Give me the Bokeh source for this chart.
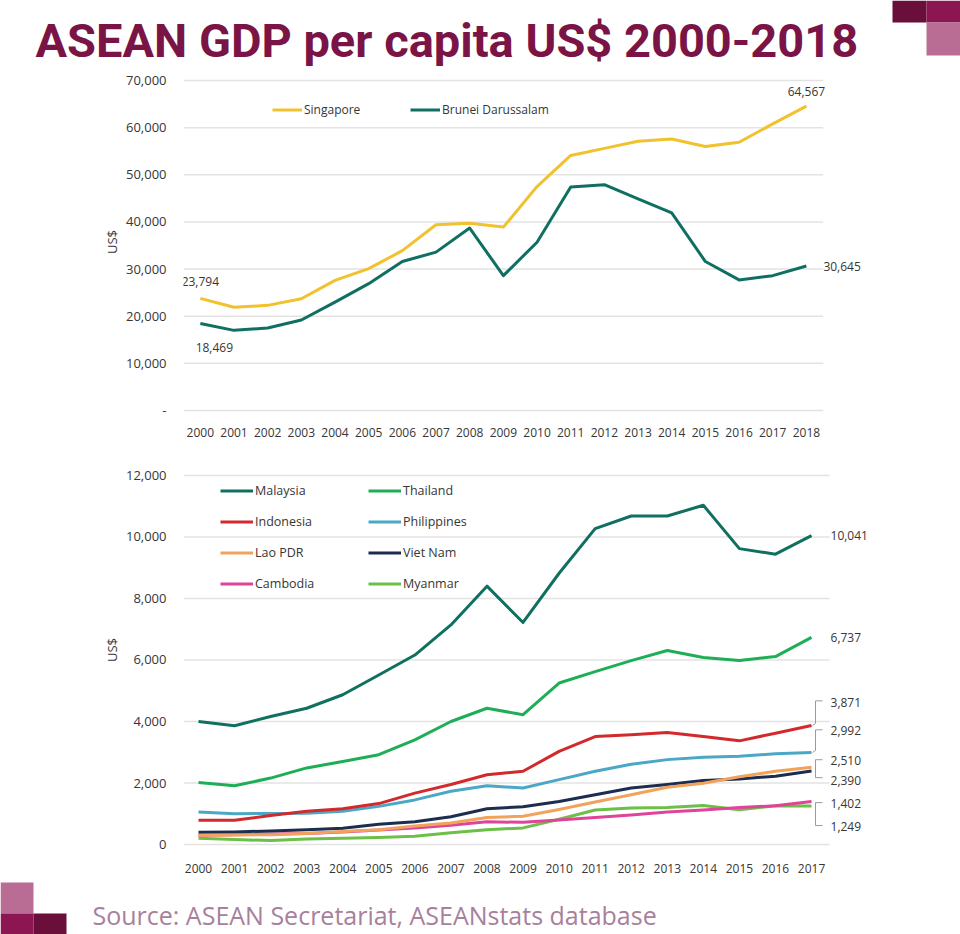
from bokeh.plotting import figure
from bokeh.layouts import column
from bokeh.models import (Legend, LegendItem, FixedTicker, Range1d, NumeralTickFormatter,
                          Label, BoxAnnotation)
from bokeh.core.properties import value
from bokeh.embed import file_html
from bokeh.resources import INLINE

# ---------------- data ----------------
years_top = list(range(2000, 2019))
singapore = [23794, 21900, 22300, 23700, 27600, 30100, 33900, 39400, 39700, 38900,
             47500, 54100, 55600, 57100, 57600, 56000, 56900, 60800, 64567]
brunei = [18469, 17000, 17500, 19200, 23000, 26900, 31600, 33600, 38700, 28600,
          35700, 47400, 47900, 44900, 41900, 31600, 27700, 28600, 30645]
top_ticks = [0, 10000, 20000, 30000, 40000, 50000, 60000, 70000]

years_bot = list(range(2000, 2018))
malaysia = [4000, 3860, 4160, 4430, 4870, 5510, 6160, 7140, 8400, 7220,
            8820, 10270, 10680, 10680, 11030, 9620, 9440, 10041]
thailand = [2020, 1910, 2160, 2490, 2700, 2920, 3400, 4000, 4430, 4220,
            5250, 5620, 5980, 6310, 6080, 5980, 6110, 6737]
indonesia = [790, 790, 940, 1080, 1160, 1330, 1670, 1950, 2270, 2380,
             3030, 3510, 3570, 3640, 3510, 3370, 3620, 3871]
philippines = [1060, 1000, 1010, 1020, 1080, 1240, 1450, 1730, 1910, 1840,
               2110, 2380, 2610, 2760, 2840, 2870, 2950, 2992]
lao = [300, 310, 320, 360, 420, 480, 600, 700, 880, 920,
       1140, 1380, 1620, 1860, 1990, 2200, 2380, 2510]
vietnam = [400, 410, 440, 480, 530, 660, 740, 900, 1160, 1230,
           1400, 1620, 1840, 1950, 2080, 2130, 2220, 2390]
cambodia = [300, 320, 340, 360, 410, 470, 540, 630, 740, 720,
            800, 880, 960, 1060, 1120, 1200, 1260, 1402]
myanmar = [200, 160, 130, 180, 200, 230, 270, 380, 480, 540,
           820, 1120, 1190, 1200, 1270, 1130, 1260, 1249]
bot_ticks = [0, 2000, 4000, 6000, 8000, 10000, 12000]

# ---------------- style ----------------
W = 960
LB = 183                # left border of the two chart frames
FONT = "Open Sans"
TXT = "#363636"
GRID = "#e3e3e3"
PLUM = "#7a1446"
DARK = "#6a0f3a"
MAG = "#8c1651"
PINK = "#b96c94"

C_SING = "#f2c12e"
C_BRU = "#0f6f62"
C_MAL = "#10705f"
C_THA = "#1fae57"
C_IDN = "#d22a2c"
C_PHL = "#4ba7c6"
C_LAO = "#f1a35c"
C_VNM = "#1d2d4f"
C_KHM = "#e0449a"
C_MMR = "#6cbf47"


def no_align(p):
    try:
        p.frame_align = False
    except Exception:
        pass


def plain_fig(h):
    p = figure(width=W, height=h, x_range=Range1d(0, W), y_range=Range1d(0, h),
               output_backend="svg", toolbar_location=None,
               x_axis_location=None, y_axis_location=None)
    p.grid.visible = False
    p.outline_line_color = None
    p.min_border = 0
    no_align(p)
    return p


def square(p, l, r, b, t, col):
    p.add_layout(BoxAnnotation(left=l, right=r, bottom=b, top=t,
                               left_units="screen", right_units="screen",
                               bottom_units="screen", top_units="screen",
                               fill_color=col, fill_alpha=1.0, line_color=None))


def style_axes(p, ticks, xticks, ylabel_overrides):
    p.grid.visible = False
    p.outline_line_color = None
    for ax in p.xaxis:
        ax.ticker = FixedTicker(ticks=xticks)
        ax.axis_line_color = None
        ax.major_tick_line_color = None
        ax.minor_tick_line_color = None
        ax.major_label_standoff = 8
        ax.major_label_text_font = FONT
        ax.major_label_text_font_size = "12px"
        ax.major_label_text_color = TXT
    for ax in p.yaxis:
        ax.ticker = FixedTicker(ticks=ticks)
        ax.formatter = NumeralTickFormatter(format="0,0")
        ax.major_label_overrides = ylabel_overrides
        ax.axis_line_color = None
        ax.major_tick_line_color = None
        ax.minor_tick_line_color = None
        ax.major_label_standoff = 11
        ax.major_label_text_font = FONT
        ax.major_label_text_font_size = "13px"
        ax.major_label_text_color = TXT
        ax.axis_label = "US$"
        ax.axis_label_text_font = FONT
        ax.axis_label_text_font_size = "13px"
        ax.axis_label_text_font_style = "normal"
        ax.axis_label_text_color = TXT
        ax.axis_label_standoff = 2


def style_legend(lg, gw, lw, fs, spacing):
    lg.padding = 0
    lg.margin = 0
    lg.spacing = spacing
    lg.border_line_color = None
    lg.background_fill_alpha = 0
    lg.glyph_width = gw
    lg.glyph_height = 21
    lg.label_height = 21
    lg.label_width = lw
    lg.label_standoff = 2
    lg.label_text_font = FONT
    lg.label_text_font_size = fs
    lg.label_text_color = TXT


# ---------------- title strip (page y 0-70) ----------------
H_T = 70
pt = plain_fig(H_T)
pt.add_layout(Label(x=35, y=H_T - 40, x_units="screen", y_units="screen",
                    text="ASEAN GDP per capita US$ 2000-2018", text_font="Roboto",
                    text_font_style="bold", text_font_size="47px", text_color=PLUM,
                    text_baseline="middle", text_align="left"))
square(pt, 892, 926, H_T - 22, H_T, DARK)
square(pt, 926, W, H_T - 22, H_T, MAG)
square(pt, 926, W, H_T - 55, H_T - 22, PINK)

# ---------------- top chart (page y 70-445) ----------------
SX_T = 33.67            # px per year
SY_T = 4.714 / 1000.0   # px per US$
x0_t = 1999.5
xr_t = Range1d(x0_t, x0_t + (W - LB) / SX_T)
yr_t = Range1d(-3 / SY_T, 70000 + 10 / SY_T)
p1 = figure(width=W, height=375, x_range=xr_t, y_range=yr_t, output_backend="svg",
            toolbar_location=None)
no_align(p1)
p1.min_border_left = LB
p1.min_border_right = 0
p1.min_border_top = 0
p1.min_border_bottom = 32
style_axes(p1, top_ticks, years_top, {0: "-"})

for t in top_ticks:
    p1.segment(x0=[x0_t], x1=[years_top[-1] + 0.5], y0=[t], y1=[t], line_color=GRID, line_width=1.5)

r_s = p1.line(years_top, singapore, line_color=C_SING, line_width=3, line_join="round")
r_b = p1.line(years_top, brunei, line_color=C_BRU, line_width=3, line_join="round")

lbl_kw = dict(text_font=value(FONT), text_font_size="12px", text_color=TXT, text_baseline="middle")
p1.text(x=[years_top[0]], y=[singapore[0] + 17 / SY_T], text=[f"{singapore[0]:,}"], text_align="center", **lbl_kw)
p1.text(x=[years_top[0] + 14 / SX_T], y=[brunei[0] - 24 / SY_T], text=[f"{brunei[0]:,}"], text_align="center", **lbl_kw)
p1.text(x=[years_top[-1]], y=[singapore[-1] + 15 / SY_T], text=[f"{singapore[-1]:,}"], text_align="center", **lbl_kw)
p1.text(x=[years_top[-1] + 17 / SX_T], y=[brunei[-1]], text=[f"{brunei[-1]:,}"], text_align="left", **lbl_kw)

leg1 = Legend(items=[LegendItem(label="Singapore", renderers=[r_s]),
                     LegendItem(label="Brunei Darussalam", renderers=[r_b])],
              orientation="horizontal", location=(272 - LB, 293))
style_legend(leg1, 30, 106, "12px", 0)
p1.add_layout(leg1)

# ---------------- bottom chart (page y 445-875) ----------------
SX_B = 36.06
SY_B = 30.833 / 1000.0
x0_b = 2000 - (198 - LB) / SX_B
xr_b = Range1d(x0_b, x0_b + (W - LB) / SX_B)
yr_b = Range1d(-5 / SY_B, 12000 + 25 / SY_B)
p2 = figure(width=W, height=430, x_range=xr_b, y_range=yr_b, output_backend="svg",
            toolbar_location=None)
no_align(p2)
p2.min_border_left = LB
p2.min_border_right = 0
p2.min_border_top = 5
p2.min_border_bottom = 25
style_axes(p2, bot_ticks, years_bot, {})

for t in bot_ticks:
    p2.segment(x0=[x0_b], x1=[years_bot[-1] + 0.5], y0=[t], y1=[t], line_color=GRID, line_width=1.5)

series = [("Malaysia", malaysia, C_MAL), ("Thailand", thailand, C_THA),
          ("Indonesia", indonesia, C_IDN), ("Philippines", philippines, C_PHL),
          ("Lao PDR", lao, C_LAO), ("Viet Nam", vietnam, C_VNM),
          ("Cambodia", cambodia, C_KHM), ("Myanmar", myanmar, C_MMR)]
rends = {}
for name, vals, col in reversed(series):
    rends[name] = p2.line(years_bot, vals, line_color=col, line_width=3, line_join="round")

xe = years_bot[-1]
p2.text(x=[xe + 19 / SX_B], y=[malaysia[-1]], text=[f"{malaysia[-1]:,}"], text_align="left", **lbl_kw)
p2.text(x=[xe + 19 / SX_B], y=[thailand[-1]], text=[f"{thailand[-1]:,}"], text_align="left", **lbl_kw)

# bracketed end labels (label heights in px above the 0 line)
lab_px = [142, 114, 84, 64, 41, 18]
lab_vals = [indonesia[-1], philippines[-1], lao[-1], vietnam[-1], cambodia[-1], myanmar[-1]]
lab_y = [px / SY_B for px in lab_px]
p2.text(x=[xe + 19 / SX_B] * 6, y=lab_y, text=[f"{v:,}" for v in lab_vals], text_align="left", **lbl_kw)

bx0 = xe + 4 / SX_B
bx1 = xe + 11 / SX_B
br_xs = [[bx1, bx0, bx0, xe + 1 / SX_B],
         [bx1, bx0, bx0, xe + 1 / SX_B],
         [bx1, bx0, bx0, bx1],
         [bx1, bx0, bx0, bx1]]
br_ys = [[lab_y[0] + 2 / SY_B, lab_y[0] + 2 / SY_B, indonesia[-1] + 2 / SY_B, indonesia[-1]],
         [lab_y[1] + 1 / SY_B, lab_y[1] + 1 / SY_B, philippines[-1] + 2 / SY_B, philippines[-1]],
         [lab_y[2] + 1 / SY_B, lab_y[2] + 1 / SY_B, lab_y[3] + 3 / SY_B, lab_y[3] + 3 / SY_B],
         [lab_y[4] + 1 / SY_B, lab_y[4] + 1 / SY_B, lab_y[5] + 1 / SY_B, lab_y[5] + 1 / SY_B]]
p2.multi_line(xs=br_xs, ys=br_ys, line_color="#9a9a9a", line_width=1)

order = ["Malaysia", "Indonesia", "Lao PDR", "Cambodia",
         "Thailand", "Philippines", "Viet Nam", "Myanmar"]
leg2 = Legend(items=[LegendItem(label=n, renderers=[rends[n]]) for n in order],
              orientation="vertical", location=(220 - LB, 255), ncols=2)
style_legend(leg2, 33, 103, "12.5px", 10)
p2.add_layout(leg2)

# ---------------- source strip (page y 875-934) ----------------
H_S = 59
ps = plain_fig(H_S)
ps.add_layout(Label(x=92, y=H_S - (914 - 875), x_units="screen", y_units="screen",
                    text="Source: ASEAN Secretariat, ASEANstats database", text_font=FONT,
                    text_font_size="25px", text_color="#a8809c",
                    text_baseline="middle", text_align="left"))
square(ps, 0, 33, H_S - (913 - 875), H_S - (882 - 875), PINK)
square(ps, 0, 33, 0, H_S - (913 - 875), MAG)
square(ps, 33, 66, 0, H_S - (913 - 875), DARK)

layout = column(pt, p1, p2, ps, spacing=0)
open("out.html", "w").write(file_html(layout, INLINE))
